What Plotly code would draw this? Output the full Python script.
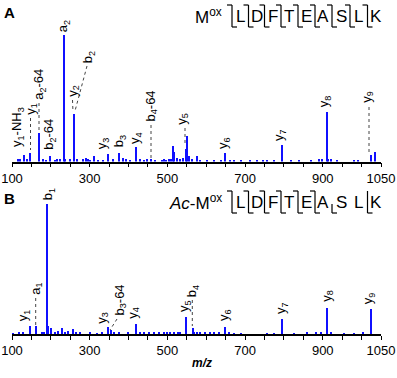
import plotly.graph_objects as go

# ---------------- data ----------------
# Panel A: M(ox)LDFTEASLK  (relative intensity, %)
a_label_mz = [130.09, 147.11, 169.13, 197.13, 233.13, 260.20, 347.23, 376.15,
              418.27, 459.20, 547.31, 648.36, 795.42, 910.45, 1023.54]
a_label_int = [5.5, 6.9, 22.5, 4.7, 100, 37.3, 6.1, 7.1,
               11.1, 1.6, 10.0, 6.9, 13.2, 38.9, 5.0]
a_noise_mz = [116, 122, 139.6, 179, 187, 211, 216, 224, 237.7, 249.7, 268.6, 282,
              291, 295, 301, 311, 322.8, 335.7, 361.5, 385.7, 394, 402.8, 428.7,
              440.7, 447.6, 469, 485.5, 491.5, 495.7, 503.6, 509.6, 515, 518, 525,
              532, 540.6, 551.7, 556, 563.8, 576.8, 585, 602.5, 619.7, 637, 662.7,
              671, 688.5, 714, 731.6, 747, 757.5, 774.6, 817.6, 839, 869, 890.7,
              897.6, 912.5, 920.9, 938, 979.5, 989.7, 1034]
a_noise_int = [1.6, 1.6, 2.1, 1.6, 1.3, 1.0, 1.6, 2.1, 2.1, 1.6, 1.6, 2.1,
               2.6, 2.1, 1.0, 4.7, 1.3, 1.0, 1.6, 2.6, 1.6, 1.3, 1.6,
               1.0, 1.6, 1.0, 1.3, 1.6, 0.8, 1.6, 2.1, 12.1, 7.9, 2.4,
               1.6, 2.6, 20.0, 4.2, 1.6, 4.2, 1.3, 1.0, 1.0, 1.3, 1.0,
               1.0, 0.8, 0.8, 0.8, 1.0, 1.0, 1.0, 1.0, 1.0, 0.8, 1.6,
               1.6, 1.6, 2.1, 1.0, 1.0, 1.0, 7.4]

# Panel B: Ac-M(ox)LDFTEASLK
b_label_mz = [147.11, 162.05, 190.05, 347.23, 354.16, 418.27, 547.31, 565.23,
              648.36, 795.42, 910.45, 1023.54]
b_label_int = [5.9, 6.2, 100, 5.4, 2.8, 7.5, 13.1, 4.8, 5.4, 11.3, 20.0, 19.2]
b_noise_mz = [103.4, 118, 127.5, 176.6, 182.6, 193.5, 200, 211, 219.6, 228, 236.8,
              245, 256.6, 265, 275.5, 301, 318.5, 331.4, 363, 374.5, 400, 428.7,
              439, 451.9, 464.8, 477.7, 490.6, 499.3, 507.8, 516.4, 526.8, 533.7,
              569.8, 576.7, 585.3, 598, 611, 619.7, 632.6, 658.4, 671.3, 688.5,
              757.4, 774.6, 826, 858.9, 882, 895, 920.8, 955, 981, 1005]
b_noise_int = [0.5, 1.5, 1.0, 1.0, 1.5, 6.5, 4.9, 1.0, 2.1, 4.9, 1.0,
               2.1, 3.8, 1.0, 0.8, 1.5, 0.5, 0.8, 1.0, 0.8, 1.0, 1.3,
               1.0, 0.8, 1.0, 1.0, 0.8, 1.3, 1.0, 1.3, 1.8, 0.8,
               1.5, 1.3, 1.0, 0.8, 0.8, 1.0, 1.0, 1.0, 0.5, 0.5,
               0.5, 0.5, 0.5, 1.0, 0.8, 1.0, 0.8, 0.5, 0.5, 0.8]

tick_vals = [100, 300, 500, 700, 900, 1050]
tick_text = ["100", "300", "500", "700", "900", "1050"]
sequence = ["L", "D", "F", "T", "E", "A", "S", "L", "K"]

# ion labels: (text, label x px, label bottom y px)
a_labels = [("y<sub>1</sub>-NH<sub>3</sub>", 17, 148), ("y<sub>1</sub>", 30.7, 116),
            ("a<sub>2</sub>-64", 39.3, 101), ("b<sub>2</sub>-64", 49.3, 151),
            ("a<sub>2</sub>", 63.3, 33), ("y<sub>2</sub>", 72.7, 98),
            ("b<sub>2</sub>", 88.3, 64), ("y<sub>3</sub>", 103.3, 150),
            ("b<sub>3</sub>", 119.3, 148), ("y<sub>4</sub>", 135, 145),
            ("b<sub>4</sub>-64", 151, 123), ("y<sub>5</sub>", 182.7, 126),
            ("y<sub>6</sub>", 224, 150), ("y<sub>7</sub>", 280, 142),
            ("y<sub>8</sub>", 324.3, 108), ("y<sub>9</sub>", 366.7, 104)]
b_labels = [("b<sub>1</sub>", 48.3, 201), ("y<sub>1</sub>", 23.3, 322),
            ("a<sub>1</sub>", 35.7, 296), ("y<sub>3</sub>", 101.7, 325),
            ("b<sub>3</sub>-64", 120, 317), ("y<sub>4</sub>", 132.7, 320),
            ("y<sub>5</sub>", 184, 313), ("b<sub>4</sub>", 192.3, 298),
            ("y<sub>6</sub>", 224, 322), ("y<sub>7</sub>", 281, 315),
            ("y<sub>8</sub>", 326.7, 303), ("y<sub>9</sub>", 368.3, 305)]
connectors = [(30.5, 118, 30.5, 150), (39, 103, 39, 131), (72.5, 100, 73, 112),
              (87, 66, 75, 111), (151, 125, 151, 159), (185, 128, 185, 146),
              (369, 107, 369, 153),
              (35.7, 298, 35.7, 325), (117, 319, 110, 330), (192.3, 300, 192.3, 326)]

# ---------------- figure ----------------
W, H = 397, 378
def px(x):
    return x / W
def py(y):
    return 1 - y / H

BLUE = "#1010ff"
FONT = "Arial, Liberation Sans, sans-serif"
fig = go.Figure()
for xs, ys, xa, ya in [(a_noise_mz, a_noise_int, "x", "y"), (a_label_mz, a_label_int, "x", "y"),
                       (b_noise_mz, b_noise_int, "x2", "y2"), (b_label_mz, b_label_int, "x2", "y2")]:
    fig.add_trace(go.Bar(x=xs, y=ys, width=3.0, marker=dict(color=BLUE, line=dict(width=0)),
                         xaxis=xa, yaxis=ya, showlegend=False, hoverinfo="x+y"))

xdom = [px(12), px(381)]
xax = dict(domain=xdom, range=[100, 1050], showline=True, linecolor="black", linewidth=1.6,
           ticks="outside", ticklen=4, tickwidth=1.4, tickcolor="black", automargin=False,
           tickvals=tick_vals, ticktext=tick_text, showgrid=False, zeroline=False,
           tickfont=dict(family=FONT, size=13, color="black"),
           minor=dict(tick0=100, dtick=50, ticks="outside", ticklen=4, tickwidth=1.4,
                      tickcolor="black", showgrid=False))
fig.update_layout(
    template="none",
    width=W, height=H, margin=dict(l=0, r=0, t=0, b=0, autoexpand=False),
    paper_bgcolor="white", plot_bgcolor="white", bargap=0, barmode="overlay",
    xaxis=dict(**xax, anchor="y"),
    yaxis=dict(domain=[py(161.5), py(5)], range=[0, 123.7], visible=False,
               fixedrange=True, automargin=False),
    xaxis2=dict(**xax, anchor="y2"),
    yaxis2=dict(domain=[py(334), py(188)], range=[0, 112.3], visible=False,
                fixedrange=True, automargin=False),
    font=dict(family=FONT, color="black"),
)

anns = []
for text, x, y in a_labels + b_labels:
    anns.append(dict(text=text, x=px(x), y=py(y), xref="paper", yref="paper", textangle=-90,
                     xanchor="center", yanchor="bottom", showarrow=False, borderpad=0,
                     font=dict(size=13, family=FONT, color="black")))
# panel letters
anns.append(dict(text="<b>A</b>", x=px(2), y=py(2), xref="paper", yref="paper", xanchor="left",
                 yanchor="top", showarrow=False, font=dict(size=15, family=FONT)))
anns.append(dict(text="<b>B</b>", x=px(2), y=py(188), xref="paper", yref="paper", xanchor="left",
                 yanchor="top", showarrow=False, font=dict(size=15, family=FONT)))
# axis title
anns.append(dict(text="<b><i>m/z</i></b>", x=px(202), y=py(372), xref="paper", yref="paper",
                 showarrow=False, font=dict(size=12, family=FONT)))

# sequence maps
letter_x = [240.7, 256.7, 272.7, 289, 306.7, 323, 341.7, 358, 376]
cut_x = [232, 248.5, 264.5, 281, 298, 315, 332, 350, 367.5]
shapes = []
for prefix, ycen, cuts in [("M<sup>ox</sup>", 16, ["full"] * 9),
                           ("<i>Ac</i>-M<sup>ox</sup>", 202,
                            ["full"] * 6 + ["low", "none", "ybar"])]:
    anns.append(dict(text=prefix, x=px(224), y=py(ycen), xref="paper", yref="paper",
                     xanchor="right", yanchor="middle", showarrow=False,
                     font=dict(size=17, family=FONT)))
    for lx, letter in zip(letter_x, sequence):
        anns.append(dict(text=letter, x=px(lx), y=py(ycen), xref="paper", yref="paper",
                         xanchor="center", yanchor="middle", showarrow=False,
                         font=dict(size=17, family=FONT)))
    top, bot = ycen - 11, ycen + 11
    for cx, kind in zip(cut_x, cuts):
        line = dict(color="black", width=1.2)
        if kind == "full":
            shapes.append(dict(type="line", xref="paper", yref="paper", x0=px(cx), x1=px(cx),
                               y0=py(top), y1=py(bot), line=line))
            shapes.append(dict(type="line", xref="paper", yref="paper", x0=px(cx - 5), x1=px(cx),
                               y0=py(top), y1=py(top), line=line))
            shapes.append(dict(type="line", xref="paper", yref="paper", x0=px(cx), x1=px(cx + 5),
                               y0=py(bot), y1=py(bot), line=line))
        elif kind in ("low", "ybar"):
            y0 = ycen + 2 if kind == "low" else top
            shapes.append(dict(type="line", xref="paper", yref="paper", x0=px(cx), x1=px(cx),
                               y0=py(y0), y1=py(bot), line=line))
            shapes.append(dict(type="line", xref="paper", yref="paper", x0=px(cx), x1=px(cx + 5),
                               y0=py(bot), y1=py(bot), line=line))

for x0, y0, x1, y1 in connectors:
    shapes.append(dict(type="line", xref="paper", yref="paper", x0=px(x0), y0=py(y0),
                       x1=px(x1), y1=py(y1), line=dict(color="#444444", width=1, dash="dot")))

fig.update_layout(annotations=anns, shapes=shapes)
fig.write_html("out.html", config={"displayModeBar": False},
               post_script="document.body.style.margin='0px';")
